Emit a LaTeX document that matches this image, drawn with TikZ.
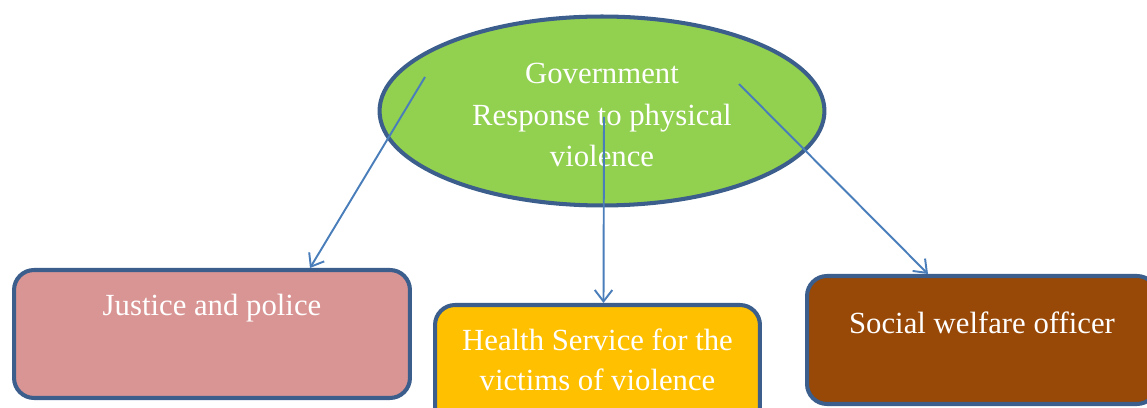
\documentclass[tikz,border=0pt]{standalone}
\usepackage{fontspec}
\setmainfont{Liberation Serif}
\usetikzlibrary{shapes.geometric, arrows.meta, calc}

\definecolor{edgeblue}{RGB}{59,94,140}
\definecolor{arrowblue}{RGB}{74,126,187}
\definecolor{govgreen}{RGB}{146,208,80}
\definecolor{justpink}{RGB}{217,149,148}
\definecolor{healthgold}{RGB}{255,192,0}
\definecolor{socialbrown}{RGB}{152,72,7}

\begin{document}
\begin{tikzpicture}[
        x=0.02cm, y=-0.02cm,
        oval/.style={ellipse, draw=edgeblue, line width=2.3pt, fill=govgreen, minimum width=8.9cm, minimum height=3.78cm, align=center, text=white, font=\fontsize{17.5}{23.5}\selectfont},
        box/.style={rectangle, draw=edgeblue, line width=2.3pt, rounded corners=0.4cm, minimum height=2.56cm},
        boxtext/.style={align=center, text=white, inner sep=0pt, font=\fontsize{17.5}{23}\selectfont},
        arrow/.style={-{Straight Barb[length=6.5pt, width=10pt]}, line width=1.1pt, draw=arrowblue}
    ]
    \useasboundingbox (0,0) rectangle (1147,408);
    \clip (0,0) rectangle (1147,408);
    % Nodes
    \node (gov) [oval] at (602,111) {};
    \node (govtxt) [boxtext, font=\fontsize{17.5}{23.5}\selectfont] at ($(gov.center)+(0,4)$) {Government\\Response to physical\\violence};
    \node (just) [box, fill=justpink, minimum width=7.92cm] at (212,334) {};
    \node (health) [box, fill=healthgold, minimum width=6.5cm] at (597.5,369) {};
    \node (social) [box, fill=socialbrown, minimum width=7.0cm] at (982,340) {};
    \node (justtxt) [boxtext] at ($(just.north)+(0,40)$) {Justice and police};
    \node (healthtxt) [boxtext] at ($(health.north)+(0,57)$) {Health Service for the\\victims of violence};
    \node (socialtxt) [boxtext] at ($(social.north)+(0,49)$) {Social welfare officer};

    % Arrows
    \draw [arrow] ($(gov.center)+(-177,-34)$) -- ($(just.north)+(98,0)$);
    \draw [arrow] ($(gov.center)+(2,6)$) -- ($(health.north)+(6,0)$);
    \draw [arrow] ($(gov.center)+(137,-27)$) -- ($(social.north)+(-54,0)$);
\end{tikzpicture}
\end{document}
